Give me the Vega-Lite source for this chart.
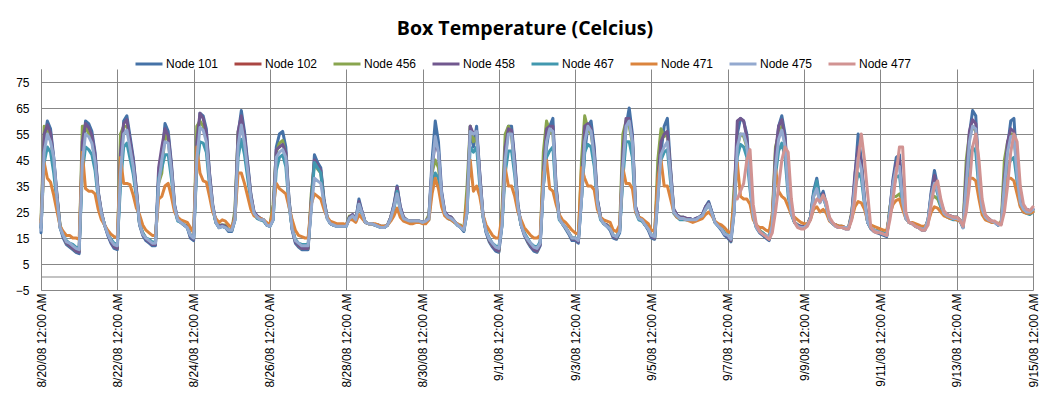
{
"$schema": "https://vega.github.io/schema/vega-lite/v6.json",
"autosize": {"type": "none"},
"width": 992,
"height": 221,
"padding": {"left": 41, "top": 69, "right": 17, "bottom": 108},
"background": "#ffffff",
"title": {"text": "Box Temperature (Celcius)", "font": "Open Sans", "fontSize": 19.5, "fontWeight": "bold", "color": "#000000", "anchor": "middle", "frame": "group", "dx": -12, "offset": 10},
"config": {
  "view": {"stroke": null},
  "axis": {"labelFont": "Liberation Sans", "labelFontSize": 12, "labelColor": "#000000", "gridColor": "#878787", "gridWidth": 1, "domainColor": "#878787", "ticks": false, "title": null}
},
"layer": [
  {
    "data": {"values": [{"y": 0}]},
    "mark": {"type": "rule", "color": "#878787", "strokeWidth": 1},
    "encoding": {"y": {"field": "y", "type": "quantitative"}}
  },
  {
    "data": {"values": [
{"t":"2008-08-20T00:00","101":17,"456":22,"458":19,"467":19,"471":21,"475":18},
{"t":"2008-08-20T02:00","101":52,"456":58,"458":55,"467":44,"471":44,"475":48},
{"t":"2008-08-20T04:00","101":60,"456":56,"458":58.5,"467":50,"471":38,"475":55},
{"t":"2008-08-20T06:00","101":57,"456":53.5,"458":55.5,"467":48,"471":36.5,"475":52},
{"t":"2008-08-20T08:00","101":46,"456":43.5,"458":45,"467":40,"471":31.5,"475":46},
{"t":"2008-08-20T10:00","101":32,"456":31,"458":31.5,"467":29,"471":25.5,"475":30.5},
{"t":"2008-08-20T12:00","101":19,"456":20,"458":19.5,"467":19,"471":19.5,"475":19},
{"t":"2008-08-20T14:00","101":15,"456":16,"458":15.5,"467":16,"471":17.5,"475":16},
{"t":"2008-08-20T16:00","101":12.5,"456":13,"458":13,"467":14,"471":16,"475":13.5},
{"t":"2008-08-20T18:00","101":11.5,"456":12,"458":12,"467":13,"471":16,"475":13},
{"t":"2008-08-20T20:00","101":10.5,"456":11,"458":11,"467":12.5,"471":15,"475":12},
{"t":"2008-08-20T22:00","101":9.5,"456":10,"458":10,"467":11.5,"471":15,"475":11},
{"t":"2008-08-21T00:00","101":9,"456":10,"458":9.5,"467":11,"471":14.5,"475":10.5},
{"t":"2008-08-21T02:00","101":45,"456":58,"458":52,"467":40,"471":48,"475":44},
{"t":"2008-08-21T04:00","101":60,"456":58,"458":59,"467":50,"471":34,"475":55},
{"t":"2008-08-21T06:00","101":59,"456":55,"458":57.5,"467":49,"471":33,"475":54},
{"t":"2008-08-21T08:00","101":56,"456":52.5,"458":54.5,"467":47,"471":33,"475":51.5},
{"t":"2008-08-21T10:00","101":48,"456":45,"458":47,"467":41,"471":32,"475":44.5},
{"t":"2008-08-21T12:00","101":33,"456":32,"458":32.5,"467":30,"471":26,"475":31.5},
{"t":"2008-08-21T14:00","101":25,"456":24.5,"458":25,"467":24,"471":22,"475":24.5},
{"t":"2008-08-21T16:00","101":20,"456":20,"458":20,"467":20,"471":20,"475":20},
{"t":"2008-08-21T18:00","101":16,"456":17,"458":16.5,"467":17,"471":18,"475":16.5},
{"t":"2008-08-21T20:00","101":13,"456":14,"458":13.5,"467":14.5,"471":16.5,"475":14},
{"t":"2008-08-21T22:00","101":11,"456":12,"458":11.5,"467":13,"471":15.5,"475":12.5},
{"t":"2008-08-22T00:00","101":10.5,"456":11,"458":11,"467":12.5,"471":15,"475":12},
{"t":"2008-08-22T02:00","101":40,"456":55,"458":48,"467":35,"471":46,"475":40},
{"t":"2008-08-22T04:00","101":60,"456":58,"458":59,"467":50,"471":36,"475":55},
{"t":"2008-08-22T06:00","101":62,"456":58,"458":60.5,"467":51.5,"471":36,"475":56.5},
{"t":"2008-08-22T08:00","101":54,"456":50.5,"458":52.5,"467":45.5,"471":35.5,"475":49.5},
{"t":"2008-08-22T10:00","101":46,"456":43.5,"458":45,"467":39.5,"471":31.5,"475":42.5},
{"t":"2008-08-22T12:00","101":34,"456":32.5,"458":33.5,"467":30.5,"471":26.5,"475":32},
{"t":"2008-08-22T14:00","101":20,"456":20.5,"458":20.5,"467":20.5,"471":24,"475":20.5},
{"t":"2008-08-22T16:00","101":16,"456":17,"458":16.5,"467":17,"471":20,"475":16.5},
{"t":"2008-08-22T18:00","101":14,"456":15,"458":14.5,"467":15,"471":18,"475":15},
{"t":"2008-08-22T20:00","101":13,"456":14,"458":13.5,"467":14.5,"471":17,"475":14},
{"t":"2008-08-22T22:00","101":12,"456":13,"458":12.5,"467":13.5,"471":16,"475":13},
{"t":"2008-08-23T00:00","101":12,"456":13,"458":12.5,"467":13.5,"471":16,"475":13},
{"t":"2008-08-23T02:00","101":38,"456":36,"458":42,"467":38,"471":30,"475":36},
{"t":"2008-08-23T04:00","101":45,"456":40,"458":50,"467":42,"471":31,"475":45},
{"t":"2008-08-23T06:00","101":59,"456":55,"458":57,"467":47,"471":35,"475":52},
{"t":"2008-08-23T08:00","101":56,"456":52.5,"458":54.5,"467":47,"471":36,"475":51.5},
{"t":"2008-08-23T10:00","101":44,"456":41.5,"458":43,"467":38,"471":31,"475":41},
{"t":"2008-08-23T12:00","101":28,"456":27,"458":27.5,"467":26,"471":25,"475":27},
{"t":"2008-08-23T14:00","101":22,"456":22,"458":22,"467":21.5,"471":23,"475":22},
{"t":"2008-08-23T16:00","101":21,"456":21,"458":21,"467":21,"471":22,"475":21},
{"t":"2008-08-23T18:00","101":20,"456":20,"458":20,"467":20,"471":21.5,"475":20},
{"t":"2008-08-23T20:00","101":19,"456":20,"458":19.5,"467":19,"471":21,"475":19},
{"t":"2008-08-23T22:00","101":15,"456":16,"458":15.5,"467":16,"471":19,"475":16},
{"t":"2008-08-24T00:00","101":14,"456":15,"458":14.5,"467":15,"471":17,"475":15},
{"t":"2008-08-24T02:00","101":45,"456":58,"458":52,"467":42,"471":50,"475":45},
{"t":"2008-08-24T04:00","101":63,"456":60,"458":63,"467":52,"471":40,"475":57.5},
{"t":"2008-08-24T06:00","101":62,"456":58,"458":61,"467":51.5,"471":37,"475":56.5},
{"t":"2008-08-24T08:00","101":57,"456":53.5,"458":55.5,"467":48,"471":36.5,"475":52},
{"t":"2008-08-24T10:00","101":40,"456":38,"458":39.5,"467":35,"471":31,"475":37.5},
{"t":"2008-08-24T12:00","101":28,"456":27,"458":27.5,"467":26,"471":25,"475":27},
{"t":"2008-08-24T14:00","101":21,"456":21,"458":21,"467":21,"471":22.5,"475":21},
{"t":"2008-08-24T16:00","101":19,"456":20,"458":19.5,"467":19,"471":21,"475":19},
{"t":"2008-08-24T18:00","101":19.5,"456":20,"458":20,"467":19.5,"471":22,"475":19.5},
{"t":"2008-08-24T20:00","101":19,"456":20,"458":19.5,"467":19,"471":21.5,"475":19},
{"t":"2008-08-24T22:00","101":17.5,"456":18,"458":18,"467":18,"471":20,"475":18},
{"t":"2008-08-25T00:00","101":17.5,"456":18,"458":18,"467":18,"471":19,"475":18},
{"t":"2008-08-25T02:00","101":22,"456":26,"458":24,"467":22,"471":23,"475":22},
{"t":"2008-08-25T04:00","101":55,"456":56,"458":56,"467":46,"471":40,"475":50.5},
{"t":"2008-08-25T06:00","101":64,"456":59.5,"458":62,"467":53,"471":40,"475":58.5},
{"t":"2008-08-25T08:00","101":56,"456":52.5,"458":54.5,"467":47,"471":36,"475":51.5},
{"t":"2008-08-25T10:00","101":44,"456":41.5,"458":43,"467":38,"471":31,"475":41},
{"t":"2008-08-25T12:00","101":32,"456":31,"458":31.5,"467":29,"471":26,"475":30.5},
{"t":"2008-08-25T14:00","101":25,"456":24.5,"458":25,"467":24,"471":23.5,"475":24.5},
{"t":"2008-08-25T16:00","101":23.5,"456":23,"458":23.5,"467":22.5,"471":23,"475":23},
{"t":"2008-08-25T18:00","101":22.5,"456":22,"458":22.5,"467":22,"471":22.5,"475":22},
{"t":"2008-08-25T20:00","101":22,"456":22,"458":22,"467":21.5,"471":22,"475":22},
{"t":"2008-08-25T22:00","101":20,"456":20,"458":20,"467":20,"471":21,"475":20},
{"t":"2008-08-26T00:00","101":19.5,"456":20,"458":20,"467":19.5,"471":20,"475":19.5},
{"t":"2008-08-26T02:00","101":22,"456":28,"458":25,"467":22,"471":26,"475":22},
{"t":"2008-08-26T04:00","101":50,"456":48,"458":49,"467":41,"471":36,"475":46},
{"t":"2008-08-26T06:00","101":55,"456":51.5,"458":50,"467":46,"471":34,"475":48},
{"t":"2008-08-26T08:00","101":56,"456":52.5,"458":51,"467":47,"471":33,"475":49},
{"t":"2008-08-26T10:00","101":50,"456":47,"458":48,"467":42.5,"471":32,"475":46},
{"t":"2008-08-26T12:00","101":30,"456":29,"458":29.5,"467":27.5,"471":27,"475":28.5},
{"t":"2008-08-26T14:00","101":18,"456":19,"458":18.5,"467":18.5,"471":22,"475":18.5},
{"t":"2008-08-26T16:00","101":13,"456":14,"458":13.5,"467":14.5,"471":18,"475":14},
{"t":"2008-08-26T18:00","101":11.5,"456":12,"458":12,"467":13,"471":16,"475":13},
{"t":"2008-08-26T20:00","101":10.5,"456":11,"458":11,"467":12.5,"471":15.5,"475":12},
{"t":"2008-08-26T22:00","101":10.5,"456":11,"458":11,"467":12.5,"471":15,"475":12},
{"t":"2008-08-27T00:00","101":10.5,"456":11,"458":11,"467":12.5,"471":15,"475":12},
{"t":"2008-08-27T02:00","101":28,"456":32,"458":30,"467":27,"471":28,"475":26},
{"t":"2008-08-27T04:00","101":47,"456":44,"458":45,"467":44,"471":32,"475":38},
{"t":"2008-08-27T06:00","101":44,"456":41.5,"458":43,"467":42,"471":31,"475":37},
{"t":"2008-08-27T08:00","101":42,"456":40,"458":41,"467":40,"471":30,"475":36},
{"t":"2008-08-27T10:00","101":30,"456":29,"458":29.5,"467":28,"471":26,"475":28.5},
{"t":"2008-08-27T12:00","101":23,"456":23,"458":23,"467":22.5,"471":23,"475":22.5},
{"t":"2008-08-27T14:00","101":20.5,"456":20.5,"458":20.5,"467":20.5,"471":21.5,"475":20.5},
{"t":"2008-08-27T16:00","101":20,"456":20,"458":20,"467":20,"471":21,"475":20},
{"t":"2008-08-27T18:00","101":19.5,"456":20,"458":20,"467":19.5,"471":20.5,"475":19.5},
{"t":"2008-08-27T20:00","101":19.5,"456":20,"458":20,"467":19.5,"471":20.5,"475":19.5},
{"t":"2008-08-27T22:00","101":19.5,"456":20,"458":20,"467":19.5,"471":20.5,"475":19.5},
{"t":"2008-08-28T00:00","101":19.5,"456":20,"458":20,"467":19.5,"471":20,"475":19.5},
{"t":"2008-08-28T02:00","101":23,"456":23.5,"458":23,"467":22.5,"471":22,"475":22.5},
{"t":"2008-08-28T04:00","101":24,"456":23.5,"458":24,"467":23,"471":22,"475":23.5},
{"t":"2008-08-28T06:00","101":22,"456":22,"458":22,"467":21.5,"471":21,"475":22},
{"t":"2008-08-28T08:00","101":30,"456":28,"458":29,"467":28,"471":24,"475":28},
{"t":"2008-08-28T10:00","101":25,"456":24.5,"458":25,"467":24,"471":22.5,"475":24.5},
{"t":"2008-08-28T12:00","101":21,"456":21,"458":21,"467":21,"471":21,"475":21},
{"t":"2008-08-28T14:00","101":20.5,"456":20.5,"458":20.5,"467":20.5,"471":20.5,"475":20.5},
{"t":"2008-08-28T16:00","101":20.5,"456":20.5,"458":20.5,"467":20.5,"471":20.5,"475":20.5},
{"t":"2008-08-28T18:00","101":20,"456":20,"458":20,"467":20,"471":20.5,"475":20},
{"t":"2008-08-28T20:00","101":19.5,"456":20,"458":20,"467":19.5,"471":20,"475":19.5},
{"t":"2008-08-28T22:00","101":19,"456":19.5,"458":19.5,"467":19,"471":19.5,"475":19},
{"t":"2008-08-29T00:00","101":19,"456":19.5,"458":19.5,"467":19,"471":19.5,"475":19},
{"t":"2008-08-29T02:00","101":20,"456":20,"458":20,"467":20,"471":20,"475":20},
{"t":"2008-08-29T04:00","101":23,"456":23,"458":23,"467":22,"471":21.5,"475":22.5},
{"t":"2008-08-29T06:00","101":28,"456":27,"458":27.5,"467":26,"471":23.5,"475":27},
{"t":"2008-08-29T08:00","101":35,"456":33.5,"458":34.5,"467":33,"471":26.5,"475":32},
{"t":"2008-08-29T10:00","101":27,"456":26,"458":27,"467":25.5,"471":23,"475":26},
{"t":"2008-08-29T12:00","101":23,"456":23,"458":23,"467":22,"471":21.5,"475":22.5},
{"t":"2008-08-29T14:00","101":22,"456":22,"458":22,"467":21.5,"471":21,"475":22},
{"t":"2008-08-29T16:00","101":21.5,"456":21.5,"458":21.5,"467":21,"471":20.5,"475":21.5},
{"t":"2008-08-29T18:00","101":21.5,"456":21.5,"458":21.5,"467":21,"471":20.5,"475":21.5},
{"t":"2008-08-29T20:00","101":21.5,"456":21.5,"458":21.5,"467":21,"471":21,"475":21.5},
{"t":"2008-08-29T22:00","101":21.5,"456":21.5,"458":21.5,"467":21,"471":21,"475":21.5},
{"t":"2008-08-30T00:00","101":21,"456":21,"458":21,"467":21,"471":20.5,"475":21},
{"t":"2008-08-30T02:00","101":21.5,"456":21.5,"458":21.5,"467":21,"471":20.5,"475":21.5},
{"t":"2008-08-30T04:00","101":23,"456":24,"458":23,"467":22,"471":22,"475":22.5},
{"t":"2008-08-30T06:00","101":45,"456":40,"458":42,"467":36,"471":32,"475":42},
{"t":"2008-08-30T08:00","101":60,"456":45,"458":52,"467":40,"471":38,"475":54},
{"t":"2008-08-30T10:00","101":52,"456":42,"458":48,"467":38,"471":34,"475":48},
{"t":"2008-08-30T12:00","101":33,"456":31,"458":32,"467":29,"471":27,"475":31.5},
{"t":"2008-08-30T14:00","101":25,"456":24.5,"458":25,"467":24,"471":23.5,"475":24.5},
{"t":"2008-08-30T16:00","101":23.5,"456":23,"458":23.5,"467":22.5,"471":22.5,"475":23},
{"t":"2008-08-30T18:00","101":23,"456":23,"458":23,"467":22,"471":22,"475":22.5},
{"t":"2008-08-30T20:00","101":21.5,"456":21.5,"458":21.5,"467":21,"471":21,"475":21.5},
{"t":"2008-08-30T22:00","101":20,"456":20,"458":20,"467":20,"471":20.5,"475":20},
{"t":"2008-08-31T00:00","101":19,"456":20,"458":19.5,"467":19,"471":19.5,"475":19},
{"t":"2008-08-31T02:00","101":17.5,"456":18,"458":18,"467":18,"471":19,"475":18},
{"t":"2008-08-31T04:00","101":25,"456":35,"458":28,"467":25,"471":30,"475":25},
{"t":"2008-08-31T06:00","101":58,"456":58,"458":58,"467":50,"471":45,"475":56},
{"t":"2008-08-31T08:00","101":50,"456":52,"458":55,"467":48,"471":33,"475":55},
{"t":"2008-08-31T10:00","101":58,"456":54,"458":56,"467":50,"471":35,"475":56},
{"t":"2008-08-31T12:00","101":40,"456":38,"458":39.5,"467":35,"471":31,"475":37.5},
{"t":"2008-08-31T14:00","101":24,"456":23.5,"458":24,"467":23,"471":24,"475":23.5},
{"t":"2008-08-31T16:00","101":17,"456":18,"458":17.5,"467":17.5,"471":20,"475":17.5},
{"t":"2008-08-31T18:00","101":13.5,"456":14,"458":14,"467":15,"471":18,"475":14.5},
{"t":"2008-08-31T20:00","101":11.5,"456":12,"458":12,"467":13,"471":16,"475":13},
{"t":"2008-08-31T22:00","101":10,"456":11,"458":10.5,"467":12,"471":15,"475":11.5},
{"t":"2008-09-01T00:00","101":9.5,"456":10,"458":10,"467":11.5,"471":15,"475":11},
{"t":"2008-09-01T02:00","101":20,"456":26,"458":22,"467":20,"471":24,"475":20},
{"t":"2008-09-01T04:00","101":45,"456":55,"458":50,"467":40,"471":42,"475":45},
{"t":"2008-09-01T06:00","101":58,"456":58,"458":57,"467":48.5,"471":35,"475":55},
{"t":"2008-09-01T08:00","101":58,"456":54,"458":56.5,"467":48.5,"471":35,"475":55},
{"t":"2008-09-01T10:00","101":45,"456":42.5,"458":44,"467":39,"471":31,"475":41.5},
{"t":"2008-09-01T12:00","101":28,"456":27,"458":27.5,"467":26,"471":25,"475":27},
{"t":"2008-09-01T14:00","101":20,"456":20,"458":20,"467":20,"471":22,"475":20},
{"t":"2008-09-01T16:00","101":16,"456":17,"458":16.5,"467":17,"471":19,"475":16.5},
{"t":"2008-09-01T18:00","101":13.5,"456":14,"458":14,"467":15,"471":17.5,"475":14.5},
{"t":"2008-09-01T20:00","101":11.5,"456":12,"458":12,"467":13,"471":16,"475":13},
{"t":"2008-09-01T22:00","101":10,"456":11,"458":10.5,"467":12,"471":15,"475":11.5},
{"t":"2008-09-02T00:00","101":9.5,"456":10,"458":10,"467":11.5,"471":15,"475":11},
{"t":"2008-09-02T02:00","101":12,"456":13,"458":12.5,"467":13.5,"471":16,"475":13},
{"t":"2008-09-02T04:00","101":35,"456":48,"458":40,"467":35,"471":40,"475":35},
{"t":"2008-09-02T06:00","101":50,"456":60,"458":57,"467":46,"471":45,"475":52},
{"t":"2008-09-02T08:00","101":58,"456":56,"458":58,"467":48.5,"471":34,"475":57},
{"t":"2008-09-02T10:00","101":61,"456":55,"458":58,"467":50,"471":33,"475":56},
{"t":"2008-09-02T12:00","101":35,"456":33.5,"458":34.5,"467":31,"471":28,"475":33},
{"t":"2008-09-02T14:00","101":23,"456":23,"458":23,"467":22,"471":24,"475":22.5},
{"t":"2008-09-02T16:00","101":20.5,"456":20.5,"458":20.5,"467":20.5,"471":22,"475":20.5},
{"t":"2008-09-02T18:00","101":18.5,"456":19,"458":19,"467":19,"471":21,"475":19},
{"t":"2008-09-02T20:00","101":16.5,"456":17,"458":17,"467":17,"471":19.5,"475":17},
{"t":"2008-09-02T22:00","101":14,"456":15,"458":14.5,"467":15,"471":18,"475":15},
{"t":"2008-09-03T00:00","101":14,"456":15,"458":14.5,"467":15,"471":17,"475":15},
{"t":"2008-09-03T02:00","101":13,"456":14,"458":13.5,"467":14.5,"471":16.5,"475":14},
{"t":"2008-09-03T04:00","101":30,"456":45,"458":35,"467":30,"471":42,"475":30},
{"t":"2008-09-03T06:00","101":48,"456":62,"458":58,"467":48,"471":38,"475":52},
{"t":"2008-09-03T08:00","101":58,"456":57,"458":59,"467":51,"471":35,"475":58},
{"t":"2008-09-03T10:00","101":60,"456":55,"458":57,"467":50,"471":35,"475":56},
{"t":"2008-09-03T12:00","101":50,"456":47,"458":48,"467":42.5,"471":33.5,"475":46},
{"t":"2008-09-03T14:00","101":30,"456":29,"458":29.5,"467":27.5,"471":26,"475":28.5},
{"t":"2008-09-03T16:00","101":23,"456":23,"458":23,"467":22,"471":23,"475":22.5},
{"t":"2008-09-03T18:00","101":20.5,"456":20.5,"458":20.5,"467":20.5,"471":22,"475":20.5},
{"t":"2008-09-03T20:00","101":19.5,"456":20,"458":20,"467":19.5,"471":21.5,"475":19.5},
{"t":"2008-09-03T22:00","101":18,"456":19,"458":18.5,"467":18.5,"471":21,"475":18.5},
{"t":"2008-09-04T00:00","101":15,"456":16,"458":15.5,"467":16,"471":18,"475":16},
{"t":"2008-09-04T02:00","101":14.5,"456":15,"458":15,"467":15.5,"471":17.5,"475":15.5},
{"t":"2008-09-04T04:00","101":17,"456":19,"458":18,"467":17.5,"471":20,"475":17.5},
{"t":"2008-09-04T06:00","101":40,"456":55,"458":48,"467":38,"471":42,"475":42},
{"t":"2008-09-04T08:00","101":58,"456":60,"458":61,"467":52,"471":36,"475":58},
{"t":"2008-09-04T10:00","101":65,"456":58,"458":61,"467":52,"471":36,"475":60},
{"t":"2008-09-04T12:00","101":55,"456":51.5,"458":53.5,"467":46,"471":34,"475":52},
{"t":"2008-09-04T14:00","101":27,"456":26,"458":27,"467":25,"471":25,"475":26},
{"t":"2008-09-04T16:00","101":23,"456":23,"458":23,"467":22,"471":23,"475":22.5},
{"t":"2008-09-04T18:00","101":22,"456":22,"458":22,"467":21.5,"471":22.5,"475":22},
{"t":"2008-09-04T20:00","101":20,"456":20,"458":20,"467":20,"471":21.5,"475":20},
{"t":"2008-09-04T22:00","101":18,"456":19,"458":18.5,"467":18.5,"471":20.5,"475":18.5},
{"t":"2008-09-05T00:00","101":15,"456":16,"458":15.5,"467":16,"471":18,"475":16},
{"t":"2008-09-05T02:00","101":14.5,"456":15,"458":15,"467":15.5,"471":17.5,"475":15.5},
{"t":"2008-09-05T04:00","101":30,"456":45,"458":38,"467":32,"471":38,"475":30},
{"t":"2008-09-05T06:00","101":48,"456":57,"458":52,"467":45,"471":45,"475":47},
{"t":"2008-09-05T08:00","101":58,"456":54,"458":55,"467":48,"471":35,"475":50},
{"t":"2008-09-05T10:00","101":61,"456":55,"458":56,"467":49,"471":35,"475":52},
{"t":"2008-09-05T12:00","101":42,"456":40,"458":41,"467":36.5,"471":30,"475":39},
{"t":"2008-09-05T14:00","101":26,"456":25.5,"458":26,"467":24.5,"471":25,"475":25},
{"t":"2008-09-05T16:00","101":24,"456":23.5,"458":24,"467":23,"471":23,"475":23.5},
{"t":"2008-09-05T18:00","101":23,"456":23,"458":23,"467":22,"471":22.5,"475":22.5},
{"t":"2008-09-05T20:00","101":23,"456":23,"458":23,"467":22,"471":22.5,"475":22.5},
{"t":"2008-09-05T22:00","101":22.5,"456":22,"458":22.5,"467":22,"471":22,"475":22},
{"t":"2008-09-06T00:00","101":22.5,"456":22,"458":22.5,"467":22,"471":21.5,"475":22},
{"t":"2008-09-06T02:00","101":22,"456":22,"458":22,"467":21.5,"471":21,"475":22},
{"t":"2008-09-06T04:00","101":22.5,"456":22,"458":22.5,"467":22,"471":21.5,"475":22},
{"t":"2008-09-06T06:00","101":23,"456":23,"458":23,"467":22.5,"471":22,"475":23},
{"t":"2008-09-06T08:00","101":24,"456":23.5,"458":24,"467":23.5,"471":22.5,"475":23.5},
{"t":"2008-09-06T10:00","101":27,"456":26,"458":27,"467":26,"471":24,"475":26},
{"t":"2008-09-06T12:00","101":29,"456":28,"458":28.5,"467":28,"471":25,"475":28},
{"t":"2008-09-06T14:00","101":25,"456":24.5,"458":25,"467":24.5,"471":23.5,"475":24.5},
{"t":"2008-09-06T16:00","101":21,"456":21,"458":21,"467":21,"471":21.5,"475":21},
{"t":"2008-09-06T18:00","101":19.5,"456":20,"458":20,"467":19.5,"471":20.5,"475":19.5},
{"t":"2008-09-06T20:00","101":18,"456":19,"458":18.5,"467":18.5,"471":20,"475":18.5},
{"t":"2008-09-06T22:00","101":16,"456":17,"458":16.5,"467":17,"471":19,"475":16.5},
{"t":"2008-09-07T00:00","101":15,"456":16,"458":15.5,"467":16,"471":17.5,"475":16},
{"t":"2008-09-07T02:00","101":13.5,"456":14,"458":14,"467":15,"471":17,"475":14.5},
{"t":"2008-09-07T04:00","101":25,"456":35,"458":30,"467":26,"471":30,"475":25},
{"t":"2008-09-07T06:00","101":55,"456":50,"458":60,"467":46,"471":44,"475":50,"477":30},
{"t":"2008-09-07T08:00","101":61,"456":55,"458":61,"467":51,"471":31,"475":55,"477":33},
{"t":"2008-09-07T10:00","101":60,"456":54,"458":60,"467":50,"471":30,"475":55,"477":36},
{"t":"2008-09-07T12:00","101":55,"456":50,"458":53.5,"467":46,"471":30,"475":50.5,"477":45},
{"t":"2008-09-07T14:00","101":38,"456":36,"458":37.5,"467":33.5,"471":28,"475":35.5,"477":49},
{"t":"2008-09-07T16:00","101":24,"456":23.5,"458":24,"467":23,"471":22,"475":23.5,"477":28},
{"t":"2008-09-07T18:00","101":19,"456":20,"458":19.5,"467":19,"471":20,"475":19,"477":20},
{"t":"2008-09-07T20:00","101":17,"456":18,"458":17.5,"467":17.5,"471":19,"475":17.5,"477":17.5},
{"t":"2008-09-07T22:00","101":16,"456":17,"458":16.5,"467":17,"471":19,"475":16.5,"477":16.5},
{"t":"2008-09-08T00:00","101":15,"456":16,"458":15.5,"467":16,"471":18,"475":16,"477":15.5},
{"t":"2008-09-08T02:00","101":14,"456":15,"458":14.5,"467":15,"471":17.5,"475":15,"477":14.5},
{"t":"2008-09-08T04:00","101":20,"456":24,"458":22,"467":20,"471":24,"475":20,"477":17},
{"t":"2008-09-08T06:00","101":45,"456":50,"458":48,"467":39,"471":42,"475":42,"477":25},
{"t":"2008-09-08T08:00","101":58,"456":55,"458":58,"467":48.5,"471":33,"475":53,"477":35},
{"t":"2008-09-08T10:00","101":62,"456":58,"458":60.5,"467":51.5,"471":31,"475":56.5,"477":45},
{"t":"2008-09-08T12:00","101":55,"456":51.5,"458":53.5,"467":46,"471":30,"475":50.5,"477":50},
{"t":"2008-09-08T14:00","101":35,"456":33.5,"458":34.5,"467":31,"471":27,"475":33,"477":48},
{"t":"2008-09-08T16:00","101":25,"456":24.5,"458":25,"467":24,"471":24,"475":24.5,"477":30},
{"t":"2008-09-08T18:00","101":21,"456":21,"458":21,"467":21,"471":23,"475":21,"477":21},
{"t":"2008-09-08T20:00","101":19.5,"456":20,"458":20,"467":19.5,"471":22,"475":19.5,"477":19},
{"t":"2008-09-08T22:00","101":19,"456":19.5,"458":19.5,"467":19,"471":21,"475":19,"477":18.5},
{"t":"2008-09-09T00:00","101":19,"456":19.5,"458":19.5,"467":19,"471":20.5,"475":19,"477":18.5},
{"t":"2008-09-09T02:00","101":20,"456":20,"458":20,"467":20,"471":20.5,"475":20,"477":19.5},
{"t":"2008-09-09T04:00","101":23,"456":23,"458":23,"467":22.5,"471":22,"475":22.5,"477":22},
{"t":"2008-09-09T06:00","101":33,"456":31,"458":32,"467":32,"471":26,"475":31,"477":27},
{"t":"2008-09-09T08:00","101":38,"456":34,"458":35,"467":37,"471":27,"475":34,"477":30},
{"t":"2008-09-09T10:00","101":30,"456":29,"458":29.5,"467":29,"471":25,"475":28.5,"477":29},
{"t":"2008-09-09T12:00","101":33,"456":31,"458":32,"467":31,"471":26,"475":31,"477":31.5},
{"t":"2008-09-09T14:00","101":28,"456":27,"458":27.5,"467":27,"471":24.5,"475":27,"477":29},
{"t":"2008-09-09T16:00","101":22,"456":22,"458":22,"467":22,"471":21.5,"475":22,"477":23},
{"t":"2008-09-09T18:00","101":20.5,"456":20.5,"458":20.5,"467":20.5,"471":20.5,"475":20.5,"477":21},
{"t":"2008-09-09T20:00","101":19.5,"456":20,"458":20,"467":19.5,"471":20,"475":19.5,"477":19.5},
{"t":"2008-09-09T22:00","101":19,"456":19.5,"458":19.5,"467":19,"471":19.5,"475":19,"477":19},
{"t":"2008-09-10T00:00","101":19,"456":19.5,"458":19.5,"467":19,"471":19.5,"475":19,"477":19},
{"t":"2008-09-10T02:00","101":18.5,"456":19,"458":19,"467":19,"471":19,"475":19,"477":18.5},
{"t":"2008-09-10T04:00","101":18.5,"456":19,"458":19,"467":19,"471":19,"475":19,"477":18.5},
{"t":"2008-09-10T06:00","101":24,"456":25,"458":24.5,"467":23,"471":22.5,"475":23.5,"477":22},
{"t":"2008-09-10T08:00","101":38,"456":36,"458":40,"467":33.5,"471":27,"475":35.5,"477":30},
{"t":"2008-09-10T10:00","101":55,"456":48,"458":50,"467":40,"471":29,"475":46,"477":45},
{"t":"2008-09-10T12:00","101":45,"456":42.5,"458":44,"467":38,"471":28.5,"475":41.5,"477":55},
{"t":"2008-09-10T14:00","101":30,"456":29,"458":29.5,"467":28,"471":26,"475":29,"477":45},
{"t":"2008-09-10T16:00","101":21,"456":21,"458":21,"467":21,"471":21.5,"475":21,"477":32},
{"t":"2008-09-10T18:00","101":18.5,"456":19,"458":19,"467":19,"471":20,"475":19,"477":19},
{"t":"2008-09-10T20:00","101":17.5,"456":18,"458":18,"467":18,"471":19.5,"475":18,"477":17.5},
{"t":"2008-09-10T22:00","101":17,"456":18,"458":17.5,"467":17.5,"471":19,"475":17.5,"477":17},
{"t":"2008-09-11T00:00","101":16.5,"456":17,"458":17,"467":17,"471":18.5,"475":17,"477":17},
{"t":"2008-09-11T02:00","101":16,"456":17,"458":16.5,"467":17,"471":18,"475":16.5,"477":16.5},
{"t":"2008-09-11T04:00","101":15.5,"456":16,"458":16,"467":16.5,"471":18,"475":16,"477":16},
{"t":"2008-09-11T06:00","101":26,"456":27,"458":26,"467":25,"471":24,"475":25,"477":22},
{"t":"2008-09-11T08:00","101":38,"456":31,"458":37,"467":34,"471":28,"475":36,"477":30},
{"t":"2008-09-11T10:00","101":46,"456":31,"458":44,"467":38.5,"471":29.5,"475":42,"477":40},
{"t":"2008-09-11T12:00","101":47,"456":32,"458":45,"467":39,"471":30,"475":42.5,"477":50},
{"t":"2008-09-11T14:00","101":30,"456":29,"458":29.5,"467":28,"471":26,"475":29,"477":50},
{"t":"2008-09-11T16:00","101":23,"456":23,"458":23,"467":22.5,"471":22.5,"475":22.5,"477":25},
{"t":"2008-09-11T18:00","101":21,"456":21,"458":21,"467":21,"471":21,"475":21,"477":21},
{"t":"2008-09-11T20:00","101":20.5,"456":20.5,"458":20.5,"467":20.5,"471":21,"475":20.5,"477":20.5},
{"t":"2008-09-11T22:00","101":19.5,"456":20,"458":20,"467":19.5,"471":20.5,"475":19.5,"477":19.5},
{"t":"2008-09-12T00:00","101":19,"456":19.5,"458":19.5,"467":19,"471":20,"475":19,"477":19},
{"t":"2008-09-12T02:00","101":18,"456":19,"458":18.5,"467":18.5,"471":19.5,"475":18.5,"477":18},
{"t":"2008-09-12T04:00","101":18,"456":19,"458":18.5,"467":18.5,"471":19.5,"475":18.5,"477":18},
{"t":"2008-09-12T06:00","101":22,"456":22,"458":22,"467":21.5,"471":21,"475":22,"477":20},
{"t":"2008-09-12T08:00","101":33,"456":30,"458":32,"467":31,"471":25,"475":31,"477":28},
{"t":"2008-09-12T10:00","101":41,"456":31,"458":39,"467":36,"471":27,"475":36,"477":35},
{"t":"2008-09-12T12:00","101":35,"456":30,"458":34,"467":32,"471":26.5,"475":33,"477":37},
{"t":"2008-09-12T14:00","101":29,"456":27,"458":28.5,"467":27,"471":25,"475":28,"477":30},
{"t":"2008-09-12T16:00","101":25,"456":24.5,"458":25,"467":24,"471":23.5,"475":24.5,"477":25.5},
{"t":"2008-09-12T18:00","101":24,"456":23.5,"458":24,"467":23,"471":23,"475":23.5,"477":24},
{"t":"2008-09-12T20:00","101":23.5,"456":23,"458":23.5,"467":22.5,"471":22.5,"475":23,"477":23.5},
{"t":"2008-09-12T22:00","101":23,"456":23,"458":23,"467":22,"471":22.5,"475":22.5,"477":23},
{"t":"2008-09-13T00:00","101":23,"456":23,"458":23,"467":22,"471":22,"475":22.5,"477":23},
{"t":"2008-09-13T02:00","101":22,"456":22,"458":22,"467":21.5,"471":21.5,"475":22,"477":22},
{"t":"2008-09-13T04:00","101":19,"456":20,"458":19.5,"467":19,"471":20,"475":19,"477":19.5},
{"t":"2008-09-13T06:00","101":35,"456":45,"458":40,"467":33,"471":32,"475":35,"477":25},
{"t":"2008-09-13T08:00","101":55,"456":55,"458":56,"467":46,"471":38,"475":52,"477":35},
{"t":"2008-09-13T10:00","101":64,"456":58,"458":60.5,"467":50,"471":38,"475":58,"477":50},
{"t":"2008-09-13T12:00","101":62,"456":56,"458":59,"467":48,"471":37,"475":57,"477":55},
{"t":"2008-09-13T14:00","101":38,"456":36,"458":37.5,"467":33.5,"471":30,"475":35.5,"477":45},
{"t":"2008-09-13T16:00","101":27,"456":26,"458":27,"467":25,"471":24,"475":26,"477":30},
{"t":"2008-09-13T18:00","101":23.5,"456":23,"458":23.5,"467":22.5,"471":22,"475":23,"477":24},
{"t":"2008-09-13T20:00","101":22.5,"456":22,"458":22.5,"467":22,"471":21.5,"475":22,"477":22.5},
{"t":"2008-09-13T22:00","101":21.5,"456":21.5,"458":21.5,"467":21,"471":21,"475":21.5,"477":21.5},
{"t":"2008-09-14T00:00","101":21,"456":21,"458":21,"467":21,"471":21,"475":21,"477":21.5},
{"t":"2008-09-14T02:00","101":20,"456":20.5,"458":20,"467":20,"471":20.5,"475":20,"477":20.5},
{"t":"2008-09-14T04:00","101":20.5,"456":21,"458":20.5,"467":20.5,"471":21,"475":20.5,"477":20},
{"t":"2008-09-14T06:00","101":35,"456":45,"458":38,"467":33,"471":33,"475":35,"477":25},
{"t":"2008-09-14T08:00","101":50,"456":52,"458":52,"467":42.5,"471":38,"475":48,"477":35},
{"t":"2008-09-14T10:00","101":60,"456":55,"458":57,"467":45,"471":38,"475":54,"477":48},
{"t":"2008-09-14T12:00","101":61,"456":55,"458":56,"467":46,"471":37,"475":54,"477":55},
{"t":"2008-09-14T14:00","101":42,"456":40,"458":41,"467":36.5,"471":32,"475":39,"477":52},
{"t":"2008-09-14T16:00","101":30,"456":29,"458":29.5,"467":27.5,"471":27,"475":28.5,"477":35},
{"t":"2008-09-14T18:00","101":27,"456":26,"458":27,"467":25,"471":25,"475":26,"477":28},
{"t":"2008-09-14T20:00","101":26,"456":25.5,"458":26,"467":24.5,"471":24.5,"475":25,"477":26},
{"t":"2008-09-14T22:00","101":25.5,"456":25,"458":25.5,"467":24,"471":24.5,"475":25,"477":25.5},
{"t":"2008-09-15T00:00","101":26,"456":25.5,"458":26,"467":25,"471":25,"475":26,"477":27}
    ]},
    "transform": [
      {"fold": ["101", "456", "458", "467", "471", "475", "477"], "as": ["node", "v"]},
      {"filter": "isValid(datum.v)"}
    ],
    "mark": {"type": "line", "strokeWidth": 3, "strokeJoin": "round", "strokeCap": "round"},
    "encoding": {
      "x": {"field": "t", "type": "temporal",
        "scale": {"domain": [{"year": 2008, "month": 8, "date": 20}, {"year": 2008, "month": 9, "date": 15}]},
        "axis": {"values": [
          {"year": 2008, "month": 8, "date": 20}, {"year": 2008, "month": 8, "date": 22}, {"year": 2008, "month": 8, "date": 24},
          {"year": 2008, "month": 8, "date": 26}, {"year": 2008, "month": 8, "date": 28}, {"year": 2008, "month": 8, "date": 30},
          {"year": 2008, "month": 9, "date": 1}, {"year": 2008, "month": 9, "date": 3}, {"year": 2008, "month": 9, "date": 5},
          {"year": 2008, "month": 9, "date": 7}, {"year": 2008, "month": 9, "date": 9}, {"year": 2008, "month": 9, "date": 11},
          {"year": 2008, "month": 9, "date": 13}, {"year": 2008, "month": 9, "date": 15}],
          "tickCount": 30,
          "format": "%-m/%-d/%y %I:%M %p", "labelAngle": -90, "labelPadding": 3, "grid": true,
          "labelOverlap": false, "labelFlush": false, "labelBound": false, "domain": false}},
      "y": {"field": "v", "type": "quantitative",
        "scale": {"domain": [-5, 80], "nice": false, "zero": false},
        "axis": {"values": [-5, 5, 15, 25, 35, 45, 55, 65, 75], "tickCount": 20, "grid": true, "labelPadding": 12, "domain": true, "labelOverlap": false, "labelFlush": false}},
      "color": {"field": "node", "type": "nominal",
        "scale": {"domain": ["101", "102", "456", "458", "467", "471", "475", "477"],
                  "range": ["#4572A7", "#AA4643", "#89A54E", "#71588F", "#4198AF", "#DB843D", "#93A9CF", "#D19392"]},
        "legend": {"orient": "none", "legendX": 93, "legendY": -20, "direction": "horizontal", "columns": 8,
          "gridAlign": "all", "columnPadding": 9, "symbolType": "stroke", "symbolSize": 729, "symbolStrokeWidth": 3,
          "labelFont": "Liberation Sans", "labelFontSize": 12, "labelColor": "#000000", "labelOffset": 2, "title": null,
          "labelExpr": "'Node ' + datum.label"}}
    }
  }
]
}
